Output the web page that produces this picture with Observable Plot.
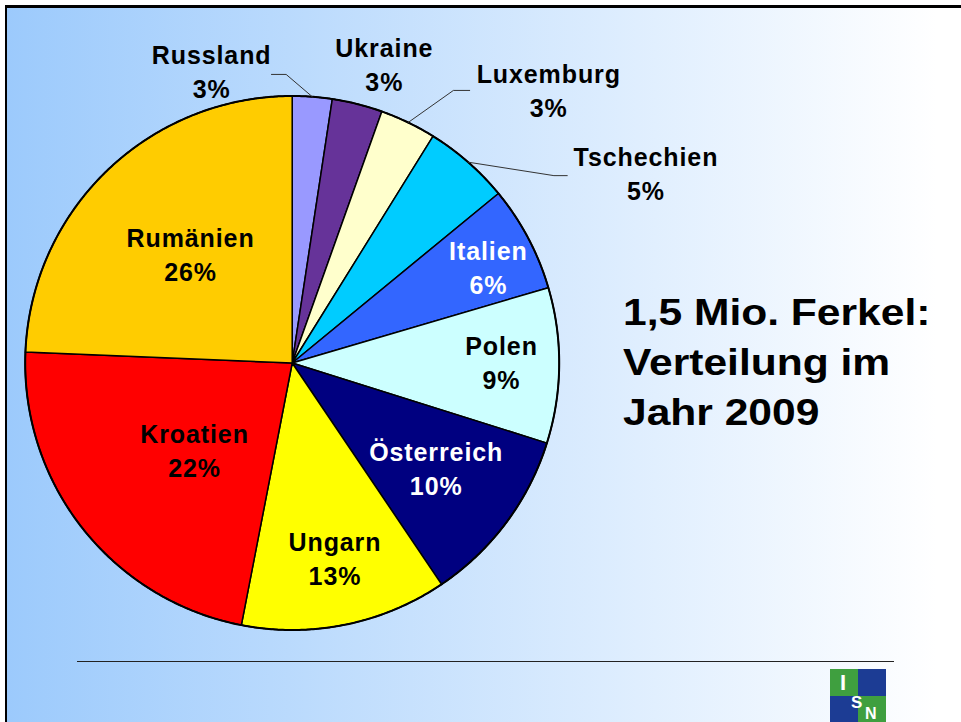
<!DOCTYPE html>
<html><head><meta charset="utf-8">
<script src="https://cdn.jsdelivr.net/npm/d3@7"></script>
<script src="https://cdn.jsdelivr.net/npm/@observablehq/plot@0.6"></script>
<style>
html,body{margin:0;padding:0;background:#fff;width:961px;height:722px;overflow:hidden;}
#slide{position:absolute;left:5px;top:5px;width:1000px;height:800px;border-left:2.5px solid #000;border-top:3px solid #000;background:linear-gradient(to right,#9ccafc 0px,#ffffff 930px);}
#chart{position:absolute;left:0;top:0;}
#title{position:absolute;left:623px;top:288px;font:bold 37px "Liberation Sans",Arial,sans-serif;line-height:50px;color:#000;white-space:nowrap;transform:scaleX(1.15);transform-origin:0 0;}
#rule{position:absolute;left:77px;top:661px;width:817px;height:0;border-top:1.5px solid #222;}
#logo{position:absolute;left:830px;top:669px;width:56px;height:53px;overflow:hidden;font:bold 20px "Liberation Sans",Arial,sans-serif;color:#fff;}
#logo .q{position:absolute;width:28px;height:27px;}
#logo .l{position:absolute;line-height:1;}
</style></head>
<body>
<div id="slide"></div>
<div id="chart"></div>
<div id="title"></div>
<div id="rule"></div>
<div id="logo">
  <div class="q" style="left:0;top:0;background:#3f9f3f"></div>
  <div class="q" style="left:28px;top:0;background:#1c3c94"></div>
  <div class="q" style="left:0;top:27px;background:#1c3c94"></div>
  <div class="q" style="left:28px;top:27px;background:#3f9f3f"></div>
  <div class="l" style="left:10px;top:3px;font-size:22px">I</div>
  <div class="l" style="left:21px;top:25px;font-size:17px">S</div>
  <div class="l" style="left:35px;top:37px;font-size:16px">N</div>
</div>
<script>
// ---- data ----
const countries = ["Russland","Ukraine","Luxemburg","Tschechien","Italien","Polen","Österreich","Ungarn","Kroatien","Rumänien"];
const shares = [2.4, 3.05, 3.4, 5.2, 6.4, 9.4, 10.7, 12.5, 22.6, 24.35]; // slice sizes as drawn
const pctLabels = ["3%","3%","3%","5%","6%","9%","10%","13%","22%","26%"];
const sliceColors = ["#9999ff","#663399","#ffffcc","#00ccff","#3366ff","#ccffff","#000080","#ffff00","#ff0000","#ffcc00"];
const titleLines = ["1,5 Mio. Ferkel:","Verteilung im","Jahr 2009"];

// ---- layout (label placement in pie radii / degrees) ----
const labelPolar = {
  "Russland":[1.129,344.5], "Ukraine":[1.167,17.2], "Luxemburg":[1.401,43.3], "Tschechien":[1.502,61.9],
  "Italien":[0.816,64.2], "Polen":[0.784,90], "Österreich":[0.671,126.5], "Ungarn":[0.752,167.7],
  "Kroatien":[0.493,227.9], "Rumänien":[0.555,316.7]
};
const whiteText = new Set(["Italien","Österreich"]);
const leaderLayout = {"Russland":[1.081,358.8,-0.055], "Luxemburg":[1.186,30.6,0.061], "Tschechien":[1.2055,54.4,0.050]};

document.getElementById("title").innerHTML = titleLines.join("<br>");

const arcs = d3.pie().sort(null).value(d => d)(shares);
const rad = Math.PI/180;
const slicePts = [];
arcs.forEach((a, i) => {
  const name = countries[i];
  slicePts.push({name, u:0, v:0});
  const n = Math.max(2, Math.ceil((a.endAngle - a.startAngle)/0.004));
  for (let k = 0; k <= n; k++) {
    const t = a.startAngle + (a.endAngle - a.startAngle)*k/n;
    slicePts.push({name, u:Math.sin(t), v:Math.cos(t)});
  }
  slicePts.push({name, u:0, v:0});
});
const circle = d3.range(0, 721).map(k => ({u:Math.sin(k*0.5*rad), v:Math.cos(k*0.5*rad)}));

const labels = countries.map((name, i) => {
  const [r, ang] = labelPolar[name];
  return {name, text: name + "\n" + pctLabels[i], u: r*Math.sin(ang*rad), v: r*Math.cos(ang*rad)};
});

const leaderPts = [];
arcs.forEach((a, i) => {
  const name = countries[i];
  const L = leaderLayout[name];
  if (!L) return;
  const mid = (a.startAngle + a.endAngle)/2;
  const eu = L[0]*Math.sin(L[1]*rad), ev = L[0]*Math.cos(L[1]*rad);
  leaderPts.push({name, u:Math.sin(mid), v:Math.cos(mid)});
  leaderPts.push({name, u:eu, v:ev});
  leaderPts.push({name, u:eu + L[2], v:ev});
});

const font = "'Liberation Sans', Arial, sans-serif";
const textOpts = {x:"u", y:"v", text:"text", dy:-2, fontSize:25, fontWeight:"bold", fontFamily:font, lineHeight:1.36, lineAnchor:"middle", textAnchor:"middle"};

const chart = Plot.plot({
  width: 961, height: 722, margin: 0,
  x: {domain:[-1,1], range:[24.7,558.7], axis:null},
  y: {domain:[-1,1], range:[629.5,95.5], axis:null},
  color: {domain: countries, range: sliceColors},
  style: {background:"transparent", overflow:"visible"},
  marks: [
    Plot.line(slicePts, {x:"u", y:"v", z:"name", fill:"name", stroke:"#000", strokeWidth:1.5, strokeLinejoin:"round", curve:"linear"}),
    Plot.line(circle, {x:"u", y:"v", stroke:"#000", strokeWidth:2, curve:"linear"}),
    Plot.line(leaderPts, {x:"u", y:"v", z:"name", stroke:"#333", strokeWidth:1, curve:"linear"}),
    Plot.text(labels.filter(d => !whiteText.has(d.name)), {...textOpts, fill:"#000"}),
    Plot.text(labels.filter(d => whiteText.has(d.name)), {...textOpts, fill:"#fff"})
  ]
});
d3.select(chart).selectAll("text").style("letter-spacing", "0.9px");
document.getElementById("chart").appendChild(chart);
</script>
</body></html>
